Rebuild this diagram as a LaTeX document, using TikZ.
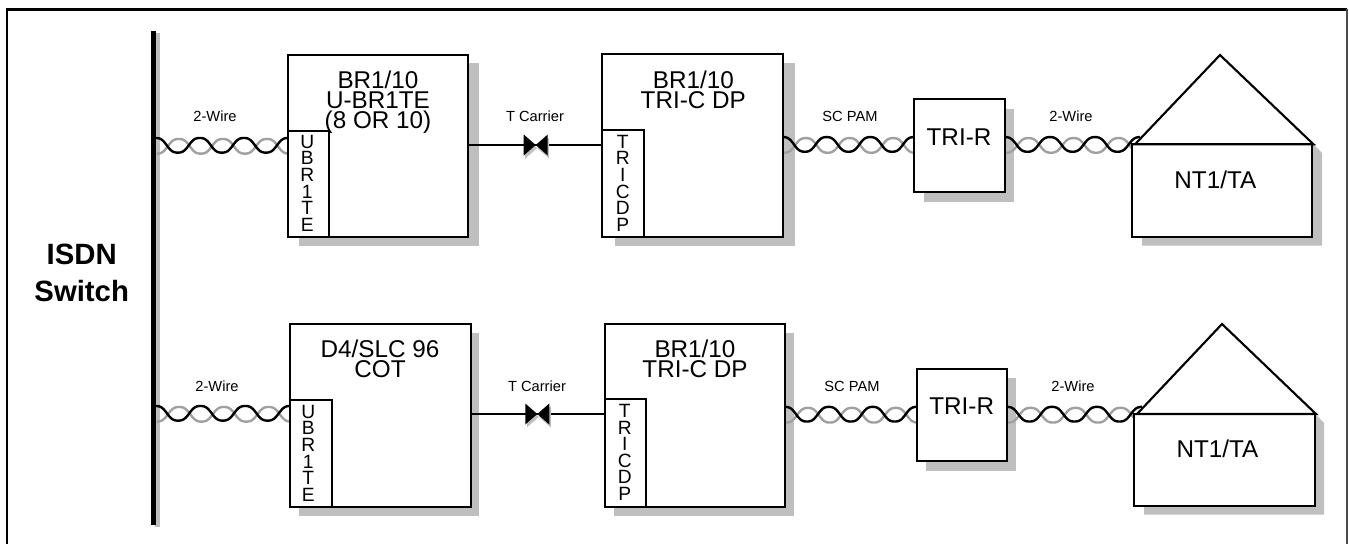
\documentclass[tikz,border=0pt]{standalone}
\usepackage{fontspec}
\setmainfont{Liberation Sans}
\usetikzlibrary{calc}
\definecolor{shadowgray}{HTML}{BFBFBF}
\definecolor{wiregray}{HTML}{A0A0A0}
\pgfdeclarelayer{shadowlayer}
\pgfdeclarelayer{wirelayer}
\pgfsetlayers{shadowlayer,wirelayer,main}
\newcommand\myBigFont{\fontsize{18.2}{15}\selectfont\lineskiplimit=-100pt\relax}
\newcommand\myLetFont{\fontsize{14.4}{12.45}\selectfont\lineskiplimit=-100pt\relax}
\newcommand\mySmallFont{\fontsize{11}{13}\selectfont}
\newcommand\myBoldFont{\fontsize{22}{27.8}\selectfont\bfseries\lineskiplimit=-100pt\relax}
\newcommand\myTop{\rule{0pt}{14pt}}
\newcommand\myTw{cos(360*\t)*(1.3-.3*cos(360*\t)*cos(360*\t))}
\tikzset{
  boxst/.style={draw=black,fill=white,line width=1.75pt,inner sep=0pt,outer sep=0pt,rectangle},
  lbl/.style={inner sep=0pt,outer sep=0pt,anchor=north,align=center},
  wlbl/.style={inner sep=0pt,outer sep=0pt,anchor=base,font=\mySmallFont},
  blackwire/.style={draw=black,line width=1.8pt},
  graywire/.style={draw=wiregray,line width=1.8pt},
  tline/.style={draw=black,line width=1.7pt},
  shadowfill/.style={fill=shadowgray,draw=none}
}
\newcommand\boxat[5]{\node[boxst,minimum width={(#4-#2)*.75pt},minimum height={(#5-#3)*.75pt}] (#1) at ({(#2+#4)/2},{(#3+#5)/2}) {};}
\newcommand\shadowrect[4]{\begin{pgfonlayer}{shadowlayer}\fill[shadowfill] (#1,#2) rectangle (#3,#4);\end{pgfonlayer}}
\newcommand\twistwire[2]{\begin{pgfonlayer}{wirelayer}
  \draw[graywire] let \p1=(#1),\p2=(#2) in plot[variable=\t,domain=0:3,samples=121] ({\x1+\t*(\x2-\x1)/3+.75pt},{\y1-.75pt-5.5pt*\myTw});
  \draw[blackwire] let \p1=(#1),\p2=(#2) in plot[variable=\t,domain=0:3,samples=121] ({\x1+\t*(\x2-\x1)/3},{\y1+5.5pt*\myTw});
\end{pgfonlayer}}
\newcommand\tiebow[1]{%
  \begin{pgfonlayer}{wirelayer}
  \fill[shadowfill] ($(#1)+(-10.5,-7.5)$) -- ($(#1)+(13.5,13.5)$) -- ($(#1)+(13.5,-7.5)$) -- ($(#1)+(-10.5,13.5)$) -- cycle;
  \end{pgfonlayer}
  \fill[black] ($(#1)+(-12,-10.5)$) -- ($(#1)+(12,10.5)$) -- ($(#1)+(12,-10.5)$) -- ($(#1)+(-12,10.5)$) -- cycle;}
\begin{document}
\begin{tikzpicture}[x=.75pt,y=-.75pt]
\useasboundingbox (0,0) rectangle (1349,544);
% frame
\draw[black,line width=1.9pt] (7,544) -- (7,9.3) -- (1347,9.3);
\draw[black!70,line width=1.1pt] (1347,9.3) -- (1347,544);
% bus bar
\shadowrect{155}{33}{160}{527}
\node[fill=black,draw=none,inner sep=0pt,outer sep=0pt,minimum width=3.5pt,minimum height=370.5pt] (bar) at (153.4,278) {};
\node[lbl,font=\myBoldFont] (isdn) at (81.7,{262.7-18.7}) {\myTop ISDN\\Switch};

% ---- row 1 boxes
\shadowrect{299}{63}{479}{245.7}
\boxat{a1}{288}{54.7}{468}{236.7}
\boxat{a1s}{288}{130.7}{329}{236.7}
\node[lbl,font=\myBigFont] (a1t) at (378,{88.3-18.7}) {\myTop BR1/10\\U-BR1TE\\(8 OR 10)};
\node[lbl,font=\myLetFont] (a1v) at (307.3,{148.3-18.7}) {\myTop U\\B\\R\\1\\T\\E};

\shadowrect{615}{63}{795}{245.7}
\boxat{a2}{602.3}{54.3}{783}{236.7}
\boxat{a2s}{602.3}{130}{644}{236.7}
\node[lbl,font=\myBigFont] (a2t) at (693.3,{88.3-18.7}) {\myTop BR1/10\\TRI-C DP};
\node[lbl,font=\myLetFont] (a2v) at (622.7,{148.3-18.7}) {\myTop T\\R\\I\\C\\D\\P};

\shadowrect{924}{109}{1013.7}{201.7}
\boxat{a3}{914}{99}{1005}{192}
\node[lbl,font=\myBigFont] (a3t) at (959,{145.7-18.7}) {\myTop TRI-R};

\begin{pgfonlayer}{shadowlayer}
\fill[shadowfill] (1313,144) -- (1322,153) -- (1322,245.7) -- (1142,245.7) -- (1142,236) -- cycle;
\end{pgfonlayer}
\coordinate (a4top) at (1220,55);
\boxat{a4}{1132}{144.3}{1312}{237}
\draw[fill=white,line width=1.6pt,line join=miter] (1135,144.3) -- (a4top) -- (1313.5,144.3) -- cycle;
\node[lbl,font=\myBigFont] (a4t) at (1215.3,{189-18.7}) {\myTop NT1/TA};

% ---- row 2 boxes
\shadowrect{299}{333}{479}{516}
\boxat{b1}{290}{324}{470.7}{506.7}
\boxat{b1s}{290}{400}{331.7}{506.7}
\node[lbl,font=\myBigFont] (b1t) at (380,{357.7-18.7}) {\myTop D4/SLC 96\\COT};
\node[lbl,font=\myLetFont] (b1v) at (308.3,{418.3-18.7}) {\myTop U\\B\\R\\1\\T\\E};

\shadowrect{614}{333}{794}{516}
\boxat{b2}{604.7}{324}{785}{506.7}
\boxat{b2s}{604.7}{399.3}{646.3}{506.7}
\node[lbl,font=\myBigFont] (b2t) at (695,{357.7-18.7}) {\myTop BR1/10\\TRI-C DP};
\node[lbl,font=\myLetFont] (b2v) at (624.7,{417.6-18.7}) {\myTop T\\R\\I\\C\\D\\P};

\shadowrect{926}{378}{1015.7}{470.7}
\boxat{b3}{916.7}{369}{1007}{461}
\node[lbl,font=\myBigFont] (b3t) at (961.7,{415-18.7}) {\myTop TRI-R};

\begin{pgfonlayer}{shadowlayer}
\fill[shadowfill] (1315,414) -- (1324,423) -- (1324,514.7) -- (1144,514.7) -- (1144,505) -- cycle;
\end{pgfonlayer}
\coordinate (b4top) at (1222,324);
\boxat{b4}{1134}{414}{1314.7}{506}
\draw[fill=white,line width=1.6pt,line join=miter] (1137,414) -- (b4top) -- (1316,414) -- cycle;
\node[lbl,font=\myBigFont] (b4t) at (1217.5,{458-18.7}) {\myTop NT1/TA};

% ---- connector end points
\coordinate (ra) at (0,145.3);
\coordinate (rb) at (0,144.4);
\coordinate (sa) at (0,413.3);
\coordinate (sb) at (0,414.2);
\coordinate (a4end) at (1140,144.4);
\coordinate (b4end) at (1142,414.2);
\twistwire{bar.east |- ra}{a1.west |- ra}
\twistwire{a2.east |- rb}{a3.west |- rb}
\twistwire{a3.east |- rb}{a4end}
\twistwire{bar.east |- sa}{b1.west |- sa}
\twistwire{b2.east |- sb}{b3.west |- sb}
\twistwire{b3.east |- sb}{b4end}

% ---- T carrier
\coordinate (av) at (535.7,145);
\coordinate (bv) at (537.3,414);
\begin{pgfonlayer}{wirelayer}
\draw[tline] (a1.east |- av) -- (av) -- (a2.west |- av);
\draw[tline] (b1.east |- bv) -- (bv) -- (b2.west |- bv);
\end{pgfonlayer}
\tiebow{av}
\tiebow{bv}

% ---- wire labels
\node[wlbl] (l1) at (215,121) {2-Wire};
\node[wlbl] (l2) at (535,121) {T Carrier};
\node[wlbl] (l3) at (850,121) {SC PAM};
\node[wlbl] (l4) at (1071,121) {2-Wire};
\node[wlbl] (l5) at (217,391) {2-Wire};
\node[wlbl] (l6) at (537,391) {T Carrier};
\node[wlbl] (l7) at (852,391) {SC PAM};
\node[wlbl] (l8) at (1073,391) {2-Wire};
\end{tikzpicture}
\end{document}
